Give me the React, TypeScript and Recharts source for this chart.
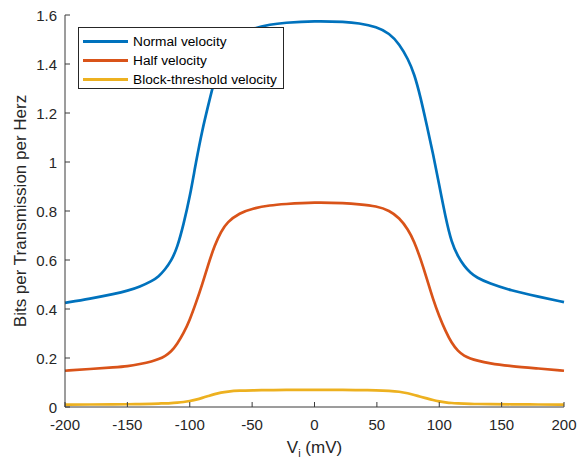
import { Legend, Line, LineChart, XAxis, YAxis } from "recharts";

const vi = [
  -200, -180, -160, -150, -140, -130, -125, -120, -115, -110, -105, -100, -95, -90, -85, -80, -75, -70, -60, -50, -35, -25,
  0, 25, 35, 50, 60, 68, 75, 80, 85, 90, 95, 100, 105, 110, 115, 120, 125, 130, 140, 157, 180, 200,
];
const normalVelocity = [
  0.425, 0.442, 0.462, 0.474, 0.491, 0.515, 0.532, 0.56, 0.595, 0.65, 0.745, 0.855, 1.0, 1.13, 1.235, 1.34, 1.41, 1.46, 1.515, 1.545, 1.562, 1.568,
  1.576, 1.572, 1.567, 1.552, 1.525, 1.482, 1.42, 1.36, 1.265, 1.15, 1.035, 0.905, 0.775, 0.668, 0.615, 0.575, 0.548, 0.528, 0.505, 0.476, 0.45, 0.428,
];
const halfVelocity = [
  0.148, 0.155, 0.162, 0.166, 0.175, 0.186, 0.195, 0.207, 0.225, 0.258, 0.3, 0.355, 0.425, 0.5, 0.585, 0.66, 0.715, 0.755, 0.792, 0.81, 0.824, 0.828,
  0.836, 0.832, 0.828, 0.82, 0.802, 0.772, 0.725, 0.675, 0.605, 0.525, 0.44, 0.37, 0.31, 0.26, 0.228, 0.208, 0.198, 0.19, 0.178, 0.167, 0.157, 0.148,
];
const blockVelocity = [
  0.01, 0.01, 0.011, 0.011, 0.012, 0.013, 0.014, 0.015, 0.016, 0.018, 0.02, 0.024, 0.03, 0.037, 0.045, 0.053, 0.059, 0.063, 0.067, 0.068, 0.069, 0.07,
  0.07, 0.07, 0.069, 0.068, 0.066, 0.063, 0.056, 0.049, 0.042, 0.035, 0.028, 0.023, 0.019, 0.016, 0.015, 0.014, 0.013, 0.012, 0.012, 0.011, 0.01, 0.01,
];

const xTicks = [-200, -150, -100, -50, 0, 50, 100, 150, 200];
const yTicks = [0, 0.2, 0.4, 0.6, 0.8, 1, 1.2, 1.4, 1.6];

const series = [
  { key: "normal", name: "Normal velocity", color: "#0072BD" },
  { key: "half", name: "Half velocity", color: "#D95319" },
  { key: "block", name: "Block-threshold velocity", color: "#EDB120" },
];

const data = vi.map((v, i) => ({
  vi: v,
  normal: normalVelocity[i],
  half: halfVelocity[i],
  block: blockVelocity[i],
}));

const FONT = '"Liberation Sans", Arial, Helvetica, sans-serif';
const INK = "#262626";
const AXIS = "#3a3a3a";

function BottomTick({ x, y, payload }: any) {
  return (
    <g>
      <line x1={x} x2={x} y1={y} y2={y - 5} stroke={AXIS} />
      <text x={x} y={y + 23} textAnchor="middle" fontSize={15} fill={INK} fontFamily={FONT}>
        {payload.value}
      </text>
    </g>
  );
}

function TopTick({ x, y }: any) {
  return <line x1={x} x2={x} y1={y} y2={y + 5} stroke={AXIS} />;
}

function LeftTick({ x, y, payload }: any) {
  return (
    <g>
      <line x1={x} x2={x + 5} y1={y} y2={y} stroke={AXIS} />
      <text x={x - 8} y={y + 6} textAnchor="end" fontSize={15} fill={INK} fontFamily={FONT}>
        {payload.value}
      </text>
    </g>
  );
}

function RightTick({ x, y }: any) {
  return <line x1={x} x2={x - 5} y1={y} y2={y} stroke={AXIS} />;
}

function YTitle({ viewBox }: any) {
  const cx = viewBox.x + 26;
  const cy = viewBox.y + viewBox.height / 2;
  return (
    <text
      x={cx}
      y={cy}
      transform={`rotate(-90 ${cx} ${cy})`}
      textAnchor="middle"
      fontSize={17}
      fill={INK}
      fontFamily={FONT}
    >
      Bits per Transmission per Herz
    </text>
  );
}

function XTitle({ viewBox }: any) {
  const cx = viewBox.x + viewBox.width / 2;
  const cy = viewBox.y + 46;
  return (
    <text x={cx} y={cy} textAnchor="middle" fontSize={17} fill={INK} fontFamily={FONT}>
      V
      <tspan fontSize={11} dy={4}>
        i
      </tspan>
      <tspan dy={-4}> (mV)</tspan>
    </text>
  );
}

function LegendBox() {
  return (
    <div
      style={{
        boxSizing: "border-box",
        width: 206,
        height: 62,
        border: `1px solid ${INK}`,
        background: "#fff",
        padding: "4px 0 0 4px",
        fontFamily: FONT,
        fontSize: 13.7,
        color: "#000",
      }}
    >
      {series.map((s) => (
        <div key={s.key} style={{ display: "flex", alignItems: "center", height: 19 }}>
          <div style={{ width: 45, height: 3, background: s.color, marginRight: 5 }} />
          <span>{s.name}</span>
        </div>
      ))}
    </div>
  );
}

export default function App() {
  return (
    <div style={{ position: "absolute", left: 0, top: 0, width: 585, height: 458, background: "#fff" }}>
      <LineChart width={585} height={458} data={data} margin={{ top: 15, right: 21, bottom: 0, left: 0 }}>
        <XAxis
          xAxisId="b"
          dataKey="vi"
          type="number"
          domain={[-200, 200]}
          ticks={xTicks}
          interval={0}
          height={51}
          tickSize={0}
          tickMargin={0}
          tickLine={false}
          stroke={AXIS}
          tick={<BottomTick />}
          label={<XTitle />}
        />
        <XAxis
          xAxisId="t"
          orientation="top"
          dataKey="vi"
          type="number"
          domain={[-200, 200]}
          ticks={xTicks}
          interval={0}
          height={0}
          tickSize={0}
          tickMargin={0}
          tickLine={false}
          stroke={AXIS}
          tick={<TopTick />}
        />
        <YAxis
          yAxisId="l"
          type="number"
          domain={[0, 1.6]}
          ticks={yTicks}
          interval={0}
          width={65}
          tickSize={0}
          tickMargin={0}
          tickLine={false}
          stroke={AXIS}
          tick={<LeftTick />}
          label={<YTitle />}
        />
        <YAxis
          yAxisId="r"
          orientation="right"
          type="number"
          domain={[0, 1.6]}
          ticks={yTicks}
          interval={0}
          width={0}
          tickSize={0}
          tickMargin={0}
          tickLine={false}
          stroke={AXIS}
          tick={<RightTick />}
        />
        {series.map((s) => (
          <Line
            key={s.key}
            xAxisId="b"
            yAxisId="l"
            type="basis"
            dataKey={s.key}
            name={s.name}
            stroke={s.color}
            strokeWidth={2.7}
            dot={false}
            activeDot={false}
            isAnimationActive={false}
          />
        ))}
        <Legend
          layout="vertical"
          align="center"
          verticalAlign="middle"
          content={<LegendBox />}
          wrapperStyle={{ left: 78, top: 27, width: 206, height: 62 }}
        />
      </LineChart>
    </div>
  );
}
